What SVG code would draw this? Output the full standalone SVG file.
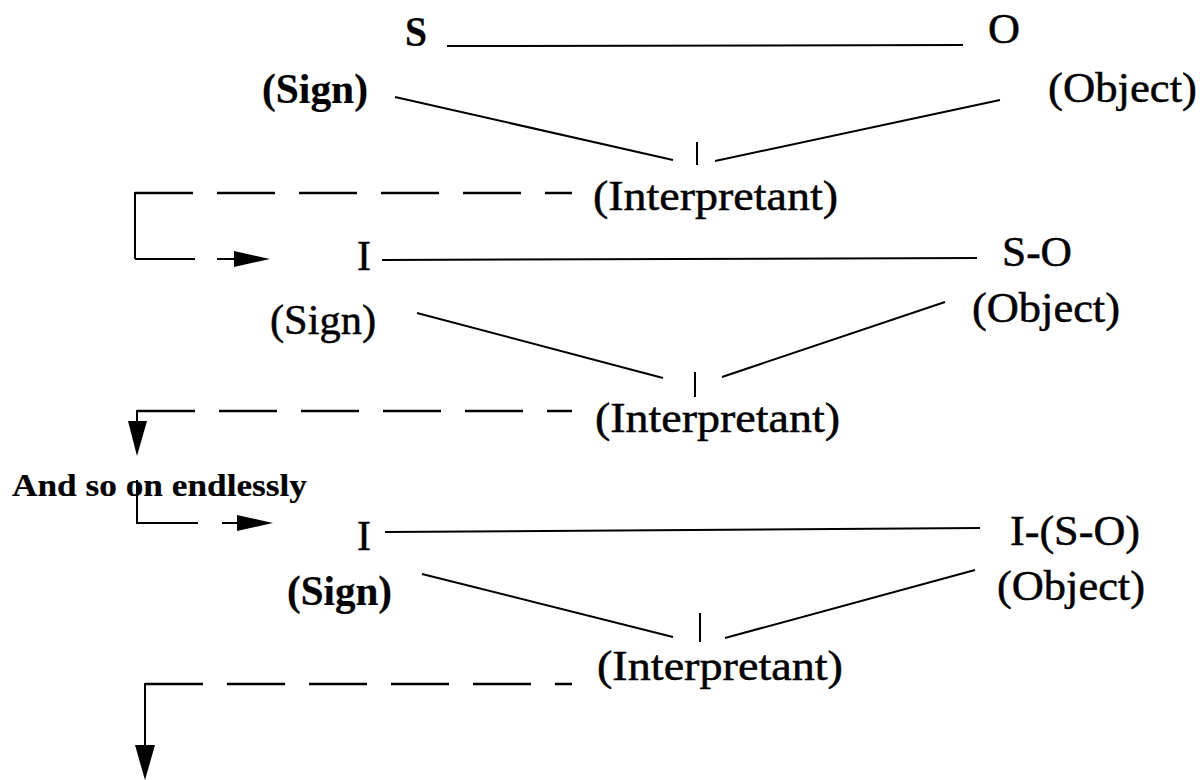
<svg xmlns="http://www.w3.org/2000/svg" width="1200" height="780" viewBox="0 0 1200 780">
<style>
.t{font-family:"Liberation Serif","Times New Roman",serif;font-size:43px;fill:#000;stroke:#000;stroke-width:0.5}
.b{font-weight:bold;stroke-width:0.2}
.s{font-size:32px;font-weight:bold;stroke-width:0.2}
.ln{stroke:#000;stroke-width:2;fill:none}
.dash{stroke:#000;stroke-width:2.6;fill:none;stroke-dasharray:58 24}
.ah{fill:#000;stroke:none}
</style>
<rect width="1200" height="780" fill="#fff"/>
<g id="connectors">
  <!-- triad 1 -->
  <line class="ln" x1="447" y1="46" x2="963" y2="45"/>
  <line class="ln" x1="395" y1="97" x2="673" y2="160"/>
  <line class="ln" x1="697" y1="142" x2="697" y2="165"/>
  <line class="ln" x1="715" y1="161" x2="1000" y2="100"/>
  <!-- feedback 1 -->
  <line class="dash" x1="135" y1="193" x2="572" y2="193"/>
  <line class="ln" x1="135" y1="192" x2="135" y2="259"/>
  <line class="ln" x1="135" y1="259" x2="195" y2="259" stroke-width="2.6"/>
  <line class="ln" x1="217" y1="259" x2="240" y2="259" stroke-width="2.6"/>
  <polygon class="ah" points="234,251 270,259 234,267"/>
  <!-- triad 2 -->
  <line class="ln" x1="382" y1="260" x2="977" y2="258"/>
  <line class="ln" x1="417" y1="313" x2="663" y2="378"/>
  <line class="ln" x1="695" y1="372" x2="695" y2="397"/>
  <line class="ln" x1="722" y1="377" x2="945" y2="302"/>
  <!-- feedback 2 -->
  <line class="dash" x1="137" y1="411" x2="572" y2="411"/>
  <line class="ln" x1="137" y1="410" x2="137" y2="424"/>
  <polygon class="ah" points="128,421 147,421 137,456"/>
  <line class="ln" x1="137" y1="480" x2="137" y2="524"/>
  <line class="ln" x1="137" y1="523" x2="198" y2="523" stroke-width="2.6"/>
  <line class="ln" x1="222" y1="523" x2="242" y2="523" stroke-width="2.6"/>
  <polygon class="ah" points="237,515 273,523 237,531"/>
  <!-- triad 3 -->
  <line class="ln" x1="385" y1="532" x2="980" y2="528"/>
  <line class="ln" x1="422" y1="574" x2="673" y2="637"/>
  <line class="ln" x1="700" y1="613" x2="700" y2="642"/>
  <line class="ln" x1="725" y1="638" x2="975" y2="570"/>
  <!-- feedback 3 -->
  <line class="dash" x1="145" y1="684" x2="572" y2="684"/>
  <line class="ln" x1="145" y1="683" x2="145" y2="748"/>
  <polygon class="ah" points="135,745 155,745 145,780"/>
</g>
<g id="n-s"><text class="t b" x="405" y="46" textLength="22" lengthAdjust="spacingAndGlyphs">S</text></g>
<g id="n-o"><text class="t" x="988" y="43" textLength="32" lengthAdjust="spacingAndGlyphs">O</text></g>
<g id="n-sign1"><text class="t b" x="262" y="103" textLength="106" lengthAdjust="spacingAndGlyphs">(Sign)</text></g>
<g id="n-object1"><text class="t" x="1048" y="102" textLength="149" lengthAdjust="spacingAndGlyphs">(Object)</text></g>
<g id="n-interp1"><text class="t" x="593" y="210" textLength="245" lengthAdjust="spacingAndGlyphs">(Interpretant)</text></g>
<g id="n-i2"><text class="t" x="357" y="270" textLength="14" lengthAdjust="spacingAndGlyphs">I</text></g>
<g id="n-so"><text class="t" x="1002" y="266" textLength="70" lengthAdjust="spacingAndGlyphs">S-O</text></g>
<g id="n-sign2"><text class="t" x="270" y="334" textLength="106" lengthAdjust="spacingAndGlyphs">(Sign)</text></g>
<g id="n-object2"><text class="t" x="972" y="322" textLength="148" lengthAdjust="spacingAndGlyphs">(Object)</text></g>
<g id="n-interp2"><text class="t" x="595" y="432" textLength="245" lengthAdjust="spacingAndGlyphs">(Interpretant)</text></g>
<g id="n-endless"><text class="t s" x="12" y="496" textLength="295" lengthAdjust="spacingAndGlyphs">And so on endlessly</text></g>
<g id="n-i3"><text class="t" x="357" y="550" textLength="14" lengthAdjust="spacingAndGlyphs">I</text></g>
<g id="n-iso"><text class="t" x="1010" y="545" textLength="130" lengthAdjust="spacingAndGlyphs">I-(S-O)</text></g>
<g id="n-sign3"><text class="t b" x="287" y="605" textLength="105" lengthAdjust="spacingAndGlyphs">(Sign)</text></g>
<g id="n-object3"><text class="t" x="997" y="600" textLength="148" lengthAdjust="spacingAndGlyphs">(Object)</text></g>
<g id="n-interp3"><text class="t" x="597" y="680" textLength="246" lengthAdjust="spacingAndGlyphs">(Interpretant)</text></g>
</svg>
